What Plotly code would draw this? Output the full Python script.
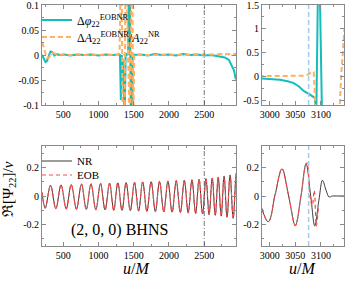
import plotly.graph_objects as go

# ---------------- data ----------------
# top panels: phase difference (cyan) and relative amplitude difference (orange)
dphi_u = [200, 225, 250, 270, 295, 320, 345, 375, 410, 450, 520, 600, 700, 800, 900, 1000,
          1100, 1200, 1290, 1305, 1318, 1328, 1345, 1360, 1372, 1385, 1400, 1420, 1432, 1445,
          1460, 1472, 1485, 1600, 1700, 1800, 1900, 2000, 2100, 2200, 2300, 2400, 2500, 2600,
          2700, 2790, 2850, 2890, 2920, 2945, 2985, 3000, 3020, 3035, 3047, 3057, 3067, 3077,
          3083, 3088, 3091, 3094, 3098, 3102]
dphi_v = [0.0, -0.008, -0.014, -0.012, -0.002, 0.007, 0.006, -0.001, 0.002, 0.0, 0.001, -0.001,
          0.001, 0.0, 0.001, -0.001, 0.001, 0.0, 0.001, 0.0, -0.09, 0.0, -0.012, -0.13, -0.13,
          0.0, 0.002, 0.0, 0.15, 0.15, -0.15, -0.15, 0.0, 0.001, -0.001, 0.002, 0.0, 0.001,
          -0.001, 0.002, 0.0, 0.001, -0.001, 0.0, -0.002, -0.005, -0.01, -0.02, -0.03, -0.047,
          -0.045, -0.05, -0.07, -0.1, -0.14, -0.21, -0.31, -0.37, -0.41, -0.45, -0.75, 1.7,
          1.7, -0.75]

damp_u = [200, 220, 245, 270, 295, 320, 350, 380, 420, 500, 600, 700, 800, 900, 1000, 1100,
          1200, 1280, 1300, 1312, 1330, 1342, 1370, 1382, 1400, 1415, 1440, 1452, 1468, 1480,
          1495, 1508, 1600, 1800, 2000, 2200, 2400, 2600, 2800, 2950, 2985, 3040, 3065, 3075,
          3083, 3086, 3090, 3136, 3140, 3146]
damp_v = [0.025, 0.018, 0.005, -0.006, -0.006, 0.0, 0.004, 0.003, 0.0, 0.001, 0.0, 0.001, 0.0,
          0.001, 0.0, 0.001, 0.0, 0.0, 0.01, 0.13, 0.13, -0.13, -0.13, 0.13, 0.13, 0.0, -0.13,
          -0.13, 0.13, 0.13, -0.13, 0.0, 0.0, 0.001, 0.0, 0.001, 0.0, 0.001, 0.002, 0.002,
          0.005, 0.005, 0.012, 0.04, 0.1, 0.09, -0.75, -0.75, 0.1, 1.0]

# bottom panels: Re[Psi_22]/nu for NR (extrema and zero crossings)
nr_u = [200, 246, 321, 396, 470, 543, 615, 688, 760, 828, 895, 963, 1030, 1094, 1158, 1217,
        1275, 1334, 1392, 1452, 1511, 1569, 1627, 1687, 1747, 1807, 1866, 1926, 1985, 2044,
        2103, 2161, 2218, 2272, 2326, 2377, 2427, 2476, 2524, 2569, 2613, 2656, 2698, 2740,
        2781, 2823, 2866, 2910, 2955, 2997, 3010, 3024, 3037, 3050, 3061, 3071, 3080, 3088,
        3096, 3103, 3110, 3116, 3122, 3130, 3145]
nr_h = [0.025, -0.085, 0.075, -0.088, 0.078, -0.09, 0.08, -0.092, 0.083, -0.094, 0.085, -0.096,
        0.088, -0.098, 0.09, -0.1, 0.092, -0.101, 0.094, -0.103, 0.096, -0.105, 0.098, -0.107,
        0.1, -0.109, 0.102, -0.111, 0.104, -0.113, 0.107, -0.116, 0.11, -0.119, 0.113, -0.122,
        0.117, -0.126, 0.121, -0.13, 0.126, -0.135, 0.132, -0.141, 0.139, -0.148, 0.147, -0.156,
        0.16, -0.18, 0.0, 0.19, 0.0, -0.207, 0.0, 0.226, 0.0, -0.21, -0.03, 0.11, 0.04, -0.007,
        0.0, 0.0, 0.0]

# EOB follows NR through the inspiral, then differs after the peak
eob_split_u = 3071
eob_merger_u = [3073, 3079, 3083, 3087, 3091, 3095]
eob_merger_h = [0.23, -0.01, -0.07, 0.04, -0.21, -0.08]

u_ref_line = 2500     # dash-dot marker, left panels
u_peak_line = 3076    # dashed marker, right panels

# ---------------- styling ----------------
FONT = "Liberation Serif, Times New Roman, serif"
CYAN = "#14bcbc"
ORANGE = "#ffb060"
RED = "#ff4a4a"
NRCOL = "#3a3a3a"
LBLUE = "#a6cbe6"
FRAME = "#8a8a8a"

W, H = 345, 282
def px(x): return x / W
def py(y): return 1 - y / H

k = nr_u.index(eob_split_u)
eob_u = nr_u[:k + 1] + eob_merger_u
eob_h = nr_h[:k + 1] + eob_merger_h

fig = go.Figure()

# top-left
fig.add_trace(go.Scatter(x=dphi_u, y=dphi_v, mode="lines", xaxis="x", yaxis="y",
                         line=dict(color=CYAN, width=2),
                         name="Δ<i>φ</i><sub>22</sub><sup>EOBNR</sup>", legend="legend"))
fig.add_trace(go.Scatter(x=damp_u, y=damp_v, mode="lines", xaxis="x", yaxis="y",
                         line=dict(color=ORANGE, width=2, dash="5px,3px"),
                         name="Δ<i>A</i><sub>22</sub><sup>EOBNR</sup>/<i>A</i><sub>22</sub><sup>NR</sup>",
                         legend="legend2"))
# top-right
fig.add_trace(go.Scatter(x=dphi_u, y=dphi_v, mode="lines", xaxis="x2", yaxis="y2",
                         line=dict(color=CYAN, width=2), showlegend=False))
fig.add_trace(go.Scatter(x=damp_u, y=damp_v, mode="lines", xaxis="x2", yaxis="y2",
                         line=dict(color=ORANGE, width=2, dash="5px,3px"), showlegend=False))
# bottom-left
fig.add_trace(go.Scatter(x=nr_u, y=nr_h, mode="lines", xaxis="x3", yaxis="y3",
                         line=dict(color=NRCOL, width=1, shape="spline"),
                         name="NR", legend="legend3"))
fig.add_trace(go.Scatter(x=eob_u, y=eob_h, mode="lines", xaxis="x3", yaxis="y3",
                         line=dict(color=RED, width=1.2, dash="4px,3px", shape="spline"),
                         name="EOB", legend="legend4"))
# bottom-right
fig.add_trace(go.Scatter(x=nr_u, y=nr_h, mode="lines", xaxis="x4", yaxis="y4",
                         line=dict(color=NRCOL, width=1, shape="spline"), showlegend=False))
fig.add_trace(go.Scatter(x=eob_u, y=eob_h, mode="lines", xaxis="x4", yaxis="y4",
                         line=dict(color=RED, width=1.2, dash="4px,3px", shape="spline"),
                         showlegend=False))

tickfont = dict(family=FONT, size=10, color="black")
def xax(dom, rng, tv, anchor, minor):
    return dict(domain=dom, range=rng, anchor=anchor, tickvals=tv,
                ticktext=[str(t) for t in tv], ticks="inside", ticklen=4,
                tickcolor=FRAME, showline=True, linecolor=FRAME, linewidth=1,
                mirror="ticks", showgrid=False, zeroline=False, tickfont=tickfont,
                automargin=False, ticklabeloverflow="allow",
                minor=dict(ticks="inside", ticklen=2, dtick=minor, tickcolor=FRAME))
def yax(dom, rng, tv, tt, anchor, minor):
    return dict(domain=dom, range=rng, anchor=anchor, tickvals=tv, ticktext=tt,
                ticks="inside", ticklen=4, tickcolor=FRAME, showline=True,
                linecolor=FRAME, linewidth=1, mirror="ticks", showgrid=False,
                zeroline=False, tickfont=tickfont, automargin=False,
                ticklabeloverflow="allow",
                minor=dict(ticks="inside", ticklen=2, dtick=minor, tickcolor=FRAME))

XL = [px(42), px(236)]
XR = [px(262), px(344)]
YT = [py(105), py(5)]
YB = [py(246), py(146)]

def leg(x, y, size):
    return dict(x=px(x), y=py(y), xanchor="left", yanchor="middle",
                bgcolor="rgba(0,0,0,0)", font=dict(family=FONT, size=size),
                tracegroupgap=0, itemwidth=30, borderwidth=0)

fig.update_layout(
    template="none",
    width=W, height=H, margin=dict(l=0, r=0, t=0, b=0, autoexpand=False),
    paper_bgcolor="white", plot_bgcolor="white",
    font=dict(family=FONT, color="black"),
    xaxis=xax(XL, [200, 2950], [500, 1000, 1500, 2000, 2500], "y", 250),
    yaxis=yax(YT, [-0.1, 0.1], [-0.1, -0.05, 0, 0.05, 0.1],
              ["-0.1", "-0.05", "0", "0.05", "0.1"], "x", 0.025),
    xaxis2=xax(XR, [2985, 3145], [3000, 3050, 3100], "y2", 25),
    yaxis2=yax(YT, [-0.6, 1.5], [-0.5, 0, 0.5, 1, 1.5],
               ["-0.5", "0", "0.5", "1", "1.5"], "x2", 0.25),
    xaxis3=xax(XL, [200, 2950], [500, 1000, 1500, 2000, 2500], "y3", 250),
    yaxis3=yax(YB, [-0.35, 0.35], [-0.2, 0, 0.2], ["-0.2", "0", "0.2"], "x3", 0.1),
    xaxis4=xax(XR, [2985, 3145], [3000, 3050, 3100], "y4", 25),
    yaxis4=yax(YB, [-0.35, 0.35], [-0.2, 0, 0.2], ["-0.2", "0", "0.2"], "x4", 0.1),
    legend=leg(37, 20, 12),
    legend2=leg(37, 37, 12),
    legend3=leg(37, 161, 11),
    legend4=leg(37, 175, 11),
    showlegend=True,
)

# reference lines
for xr, yr in (("x", "y domain"), ("x3", "y3 domain")):
    fig.add_shape(type="line", xref=xr, yref=yr, x0=u_ref_line, x1=u_ref_line, y0=0, y1=1,
                  line=dict(color="#555555", width=0.8, dash="5px,2px,1px,2px"))
for xr, yr in (("x2", "y2 domain"), ("x4", "y4 domain")):
    fig.add_shape(type="line", xref=xr, yref=yr, x0=u_peak_line, x1=u_peak_line, y0=0, y1=1,
                  line=dict(color=LBLUE, width=1.5, dash="5px,3px"))
fig.add_shape(type="line", xref="x domain", yref="y", x0=0, x1=1, y0=0, y1=0,
              line=dict(color="#999999", width=0.8, dash="1px,2px"), layer="below")

# texts
def note(text, x, y, size, angle=0):
    fig.add_annotation(text=text, x=px(x), y=py(y), xref="paper", yref="paper",
                       xanchor="center", yanchor="middle", showarrow=False,
                       textangle=angle, font=dict(family=FONT, size=size, color="black"))

note("(2, 0, 0) BHNS", 119, 230, 16)
note("ℜ[Ψ<sub>22</sub>]/<i>ν</i>", 9, 189, 15, -90)
note("<i>u</i>/<i>M</i>", 136, 268, 16)
note("<i>u</i>/<i>M</i>", 302, 268, 16)

fig.write_html("out.html", config={"displayModeBar": False},
               post_script="document.body.style.margin='0';document.body.style.overflow='hidden';")
